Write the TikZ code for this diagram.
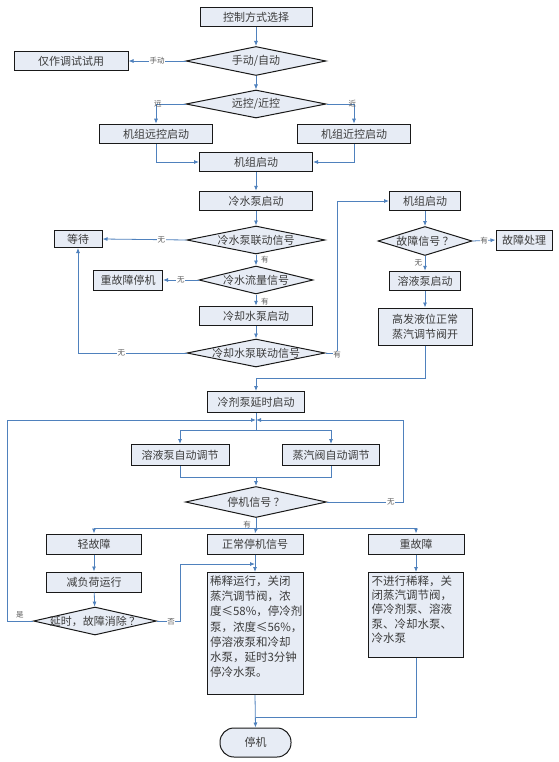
\documentclass[tikz,border=0pt]{standalone}
\usepackage{fontspec}
\setmainfont{Noto Sans CJK SC}
\usetikzlibrary{shapes.geometric,arrows.meta}
\definecolor{boxfill}{RGB}{231,236,245}
\definecolor{linec}{RGB}{79,129,189}
\definecolor{txt}{RGB}{60,60,60}
\definecolor{lbl}{RGB}{90,90,90}
\tikzset{
  basebox/.style={draw=black!90, line width=1pt, fill=boxfill, inner sep=0pt, text=txt,
    font=\fontsize{11}{13}\selectfont},
  box/.style={basebox, rectangle, minimum width=#1, minimum height=19.5pt},
  dia/.style={basebox, diamond, aspect=4.8, minimum width=#1},
  conn/.style={draw=linec, line width=0.8pt},
  arr/.style={conn, -{Latex[length=5pt,width=4pt]}},
  lab/.style={font=\fontsize{7.5}{8}\selectfont, text=lbl, fill=white, inner sep=0.6pt},
  lab2/.style={font=\fontsize{7.5}{8}\selectfont, text=lbl, inner sep=0.6pt},
}
\newcommand{\dt}[1]{\makebox[0pt]{#1}}
\begin{document}
\begin{tikzpicture}[x=1pt,y=-1pt]
\useasboundingbox[fill=white] (0,0) rectangle (558,762);

% nodes
\node[box=112] (ctrl) at (256,17) {控制方式选择};
\node[dia=140, minimum height=29pt] (d1) at (256,61) {\dt{手动/自动}};
\node[box=114] (test) at (71,61) {仅作调试试用};
\node[dia=140, minimum height=28pt] (d2) at (256,104) {\dt{远控/近控}};
\node[box=113] (remote) at (156,134) {机组远控启动};
\node[box=113] (local) at (354,134) {机组近控启动};
\node[box=113] (start) at (256,162) {机组启动};
\node[box=113] (cwp) at (256,201) {冷水泵启动};
\node[dia=138, minimum height=28pt] (d3) at (256,240) {\dt{冷水泵联动信号}};
\node[box=48, minimum height=17pt] (wait) at (78,239) {等待};
\node[dia=114, minimum height=28pt] (d4) at (256,280) {\dt{冷水流量信号}};
\node[box=69, minimum height=20pt] (fault1) at (128,280) {重故障停机};
\node[box=113] (cowp) at (256,316) {冷却水泵启动};
\node[dia=138, minimum height=28pt] (d5) at (256,353) {\dt{冷却水泵联动信号}};

\node[box=71] (start2) at (425,201) {机组启动};
\node[dia=94, minimum height=29pt] (d6) at (425,241) {\dt{故障信号 ？}};
\node[box=56, minimum height=20pt] (fh) at (524,240) {故障处理};
\node[box=71] (slp) at (425,281) {溶液泵启动};
\node[box=94, minimum height=37pt, align=center, font=\fontsize{11}{15}\selectfont] (hlv) at (425,326.5) {高发液位正常\\蒸汽调节阀开};

\node[box=97, minimum height=21pt] (refr) at (256,402) {冷剂泵延时启动};
\node[box=98, minimum height=21pt] (sauto) at (180,455) {溶液泵自动调节};
\node[box=97, minimum height=21pt] (vauto) at (331,455) {蒸汽阀自动调节};
\node[dia=141, minimum height=31pt] (d7) at (256,502) {\dt{停机信号 ？}};

\node[box=95, minimum height=20pt] (light) at (94,544) {轻故障};
\node[box=95, minimum height=20pt] (reduce) at (94,582) {减负荷运行};
\node[dia=123, minimum height=28pt] (d8) at (95,621) {\dt{延时，故障消除 ？}};
\node[box=96, minimum height=20pt] (normal) at (255,544) {正常停机信号};
\node[box=96, minimum height=20pt] (heavy) at (416,544) {重故障};

\node[basebox, anchor=north, minimum width=96pt, minimum height=122pt,
  font=\fontsize{11.5}{15.3}\selectfont] (nbox) at (255,572)
  {\parbox[c][116pt][t]{90pt}{稀释运行，关闭\\蒸汽调节阀，浓\\度≤58\%，停冷剂\\泵，浓度≤56\%，\\停溶液泵和冷却\\水泵，延时3分钟\\停冷水泵。}};
\node[basebox, anchor=north, minimum width=95pt, minimum height=85pt,
  font=\fontsize{11.5}{14.4}\selectfont] (hbox) at (416,572)
  {\parbox[c][79pt][t]{89pt}{不进行稀释，关\\闭蒸汽调节阀，\\停冷剂泵、溶液\\泵、冷却水泵、\\冷水泵}};

\node[basebox, rectangle, rounded corners=14pt, minimum width=71pt, minimum height=29pt] (term) at (255.5,742.5) {停机};

% coordinates
\coordinate (c1) at (337,353);
\coordinate (c2) at (425,378);
\coordinate (J) at (256,420);
\coordinate (B) at (256,430);
\coordinate (M) at (256,477);
\coordinate (R) at (403,420);
\coordinate (S) at (256,528);
\coordinate (L) at (7,621);
\coordinate (L2) at (7,420);
\coordinate (Q0) at (180,621);
\coordinate (Q) at (255,564);
\coordinate (T) at (255.5,717);

% connectors
\draw[arr] (ctrl) -- (d1);
\draw[arr] (d1.west) -- node[lab]{手动} (test.east);
\draw[arr] (d1) -- (d2);
\draw[arr] (d2.west) -| node[lab2, pos=0.47]{远} (remote.north);
\draw[arr] (d2.east) -| node[lab2, pos=0.47]{近} (local.north);
\draw[arr] (remote.south) |- (start.west);
\draw[arr] (local.south) |- (start.east);
\draw[arr] (start) -- (cwp);
\draw[arr] (cwp) -- (d3);
\draw[arr] (d3.west) -- node[lab, pos=0.3]{无} (wait.east);
\draw[arr] (d3.south) -- node[lab2, right=4pt]{有} (d4.north);
\draw[arr] (d4.west) -- node[lab, pos=0.5]{无} (fault1.east);
\draw[arr] (d4.south) -- node[lab2, right=4pt, pos=0.6]{有} (cowp.north);
\draw[arr] (cowp) -- (d5);
\draw[arr] (d5.west) -| node[lab, pos=0.3]{无} (wait.south);
\draw[arr] (d5.east) -- (c1) |- (start2.west);
\node[lab] (ylab) at (337,355) {有};
\draw[arr] (start2) -- (d6);
\draw[arr] (d6.east) -- node[lab]{有} (fh.west);
\draw[arr] (d6.south) -- node[lab2, left=2pt]{无} (slp.north);
\draw[arr] (slp) -- (hlv);
\draw[arr] (hlv.south) -- (c2) -| (refr.north);
\draw[conn] (refr.south) -- (B);
\draw[arr] (B) -| (sauto.north);
\draw[arr] (B) -| (vauto.north);
\draw[conn] (sauto.south) |- (M);
\draw[conn] (vauto.south) |- (M);
\draw[arr] (M) -- (d7.north);
\draw[conn] (d7.east) -| node[lab, pos=0.42]{无} (R);
\draw[arr] (R) -- (J);
\draw[conn] (d7.south) -- (S);
\node[lab2] (ylab2) at (247,525) {有};
\draw[arr] (S) -| (light.north);
\draw[arr] (S) -- (normal.north);
\draw[arr] (S) -| (heavy.north);
\draw[arr] (light) -- (reduce);
\draw[arr] (reduce) -- (d8);
\draw[conn] (d8.west) -- (L) -- (L2);
\draw[arr] (L2) -- (J);
\node[lab2] (shi) at (20,615) {是};
\draw[arr] (d8.east) -- (Q0) |- (Q);
\node[lab] (fou) at (171,622) {否};
\draw[arr] (normal) -- (nbox);
\draw[arr] (heavy) -- (hbox);
\draw[arr] (nbox.south) -- (term.north);
\draw[conn] (hbox.south) |- (T);
\end{tikzpicture}
\end{document}
